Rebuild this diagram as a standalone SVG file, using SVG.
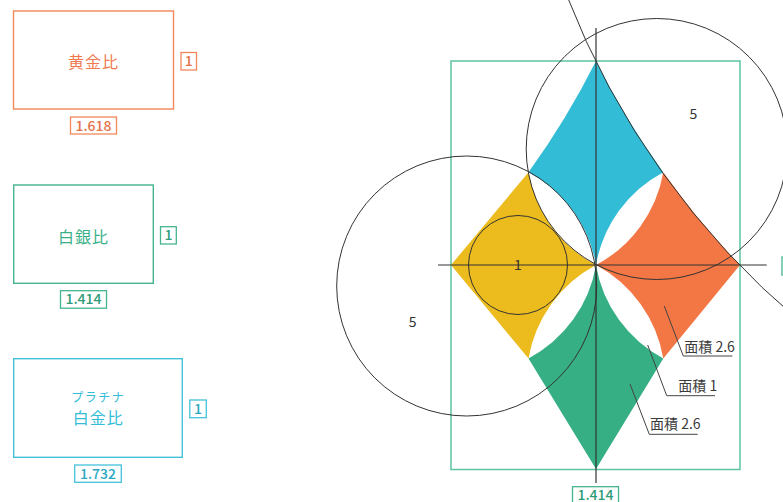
<svg xmlns="http://www.w3.org/2000/svg" width="783" height="502" viewBox="0 0 783 502">
<style>
text{font-family:"Noto Sans CJK JP","Noto Sans",sans-serif}
.guide{fill:none;stroke:#333;stroke-width:1}
.axis{fill:none;stroke:#333;stroke-width:1.2}
.lead{fill:none;stroke:#444;stroke-width:1}
.lbl{font-size:14px;fill:#3a3a3a}
.num{font-size:14px;fill:#333;text-anchor:middle}
.box{fill:#fff;stroke-width:1.3}
.name{font-size:16px;text-anchor:middle;dominant-baseline:central;letter-spacing:1px}
.bnum{font-size:14px;text-anchor:middle;font-weight:500}
</style>
<rect width="783" height="502" fill="#fff"/>

<g id="golden">
<rect x="13.5" y="11" width="160" height="98" fill="none" stroke="#F3875C" stroke-width="1.4"/>
<text class="name" x="93.5" y="61" fill="#F07A50">黄金比</text>
<rect class="box" x="181" y="52.5" width="15.5" height="17.5" stroke="#F3875C"/>
<text class="bnum" x="188.8" y="66.3" fill="#E5724A">1</text>
<rect class="box" x="70.5" y="117" width="46" height="17" stroke="#F3875C"/>
<text class="bnum" x="93.5" y="130.5" fill="#E5724A">1.618</text>
</g>

<g id="silver">
<rect x="13.7" y="185" width="139.6" height="98.3" fill="none" stroke="#45B58C" stroke-width="1.4"/>
<text class="name" x="83.5" y="235.5" fill="#38B088">白銀比</text>
<rect class="box" x="160.5" y="226.7" width="15.8" height="17.3" stroke="#45B58C"/>
<text class="bnum" x="168.4" y="240.4" fill="#2F9C78">1</text>
<rect class="box" x="60.5" y="290.7" width="46" height="17.5" stroke="#45B58C"/>
<text class="bnum" x="83.5" y="304.4" fill="#2F9C78">1.414</text>
</g>

<g id="platinum">
<rect x="13.7" y="358.7" width="168.6" height="98.6" fill="none" stroke="#44C2DA" stroke-width="1.4"/>
<text x="98.3" y="402" font-size="12" fill="#33BCD6" text-anchor="middle" letter-spacing="1.5">プラチナ</text>
<text class="name" x="98.3" y="416.5" fill="#33BCD6">白金比</text>
<rect class="box" x="189.8" y="400" width="16.5" height="17.7" stroke="#44C2DA"/>
<text class="bnum" x="198" y="413.8" fill="#2AA8C2">1</text>
<rect class="box" x="74.7" y="465" width="46.6" height="17.3" stroke="#44C2DA"/>
<text class="bnum" x="98" y="478.6" fill="#2AA8C2">1.732</text>
</g>

<g id="frame">
<rect x="451" y="61" width="289" height="408.5" fill="none" stroke="#5CC4A0" stroke-width="1.5"/>
</g>

<g id="yellow">
<path d="M451 265 L528.5 172.3 A130.5 130.5 0 0 0 596 265 A130.5 130.5 0 0 0 528.5 358.5 Z" fill="#ECBB1E"/>
</g>
<g id="blue">
<path d="M596 61 A808 808 0 0 0 663.3 172.3 A130.5 130.5 0 0 0 596 265 A130.5 130.5 0 0 0 528.5 172.3 A808 808 0 0 0 596 61 Z" fill="#33BCD6"/>
</g>
<g id="orange">
<path d="M663.3 172.3 A808 808 0 0 0 740 265 L663.3 358.5 A130.5 130.5 0 0 0 596 265 A130.5 130.5 0 0 0 663.3 172.3 Z" fill="#F37745"/>
</g>
<g id="green">
<path d="M596 265 A130.5 130.5 0 0 0 663.3 358.5 L596 469 L528.5 358.5 A130.5 130.5 0 0 0 596 265 Z" fill="#36AF84"/>
</g>

<g id="construction">
<circle class="guide" cx="466.7" cy="286" r="130"/>
<circle class="guide" cx="656.7" cy="149" r="130.5"/>
<circle class="guide" cx="518" cy="265" r="49.5"/>
<path class="guide" d="M566.6 -5 A808 808 0 0 0 800 321.4"/>
<line class="axis" x1="438" y1="265" x2="766.7" y2="265"/>
<line class="axis" x1="596" y1="28" x2="596" y2="483"/>
<text class="num" x="518" y="269.5">1</text>
<text class="num" x="693.3" y="119">5</text>
<text class="num" x="412.7" y="327">5</text>
</g>

<g id="frame-labels">
<rect class="box" x="572.5" y="486.7" width="46" height="17" stroke="#45B58C"/>
<text class="bnum" x="595.5" y="499.5" fill="#2F9C78">1.414</text>
<rect class="box" x="782" y="257" width="16" height="18" stroke="#45B58C"/>
</g>

<g id="connectors">
<path class="lead" d="M664.3 306 L683.3 356 L732.3 356"/>
<path class="lead" d="M647.7 345 L666.7 395.7 L715 395.7"/>
<path class="lead" d="M630 384 L649.3 434.3 L697.7 434.3"/>
</g>
<g id="labels">
<text class="lbl" x="684.3" y="352">面積 2.6</text>
<text class="lbl" x="678.3" y="391">面積 1</text>
<text class="lbl" x="650" y="429">面積 2.6</text>
</g>
</svg>
